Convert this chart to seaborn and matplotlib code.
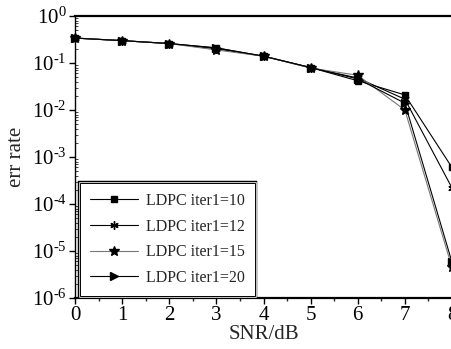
import matplotlib
matplotlib.use("Agg")
import matplotlib.pyplot as plt
import matplotlib.patheffects as pe
from matplotlib.ticker import LogLocator, MultipleLocator, NullFormatter, FuncFormatter
import seaborn as sns
import pandas as pd
import numpy as np

snr = [0, 1, 2, 3, 4, 5, 6, 7, 8]
iter10 = [0.34, 0.30, 0.26, 0.21, 0.14, 0.080, 0.042, 0.021, 6.0e-4]
iter12 = [0.34, 0.30, 0.26, 0.20, 0.14, 0.080, 0.048, 0.017, 2.2e-4]
iter15 = [0.34, 0.30, 0.26, 0.19, 0.14, 0.078, 0.055, 0.010, 4.5e-6]
iter20 = [0.34, 0.30, 0.26, 0.21, 0.14, 0.080, 0.046, 0.014, 5.8e-6]
labels = ["LDPC iter1=10", "LDPC iter1=12", "LDPC iter1=15", "LDPC iter1=20"]

df = pd.DataFrame({"snr": snr * 4,
                   "err": iter10 + iter12 + iter15 + iter20,
                   "series": [l for l in labels for _ in snr]})

sns.set_theme(style="ticks")
plt.rcParams["font.family"] = ["Liberation Serif", "DejaVu Serif"]
plt.rcParams["mathtext.fontset"] = "custom"
plt.rcParams["mathtext.rm"] = "Liberation Serif"
plt.rcParams["mathtext.it"] = "Liberation Serif"
plt.rcParams["mathtext.default"] = "regular"

fig = plt.figure(figsize=(4.52, 3.49), dpi=100)
ax = fig.add_axes([0.166, 0.146, 0.834, 0.808])

markers = {labels[0]: "s", labels[1]: (6, 2, 0), labels[2]: "*", labels[3]: ">"}
colors = {labels[0]: "black", labels[1]: "black", labels[2]: "#777777", labels[3]: "black"}
sizes = {labels[0]: 5, labels[1]: 6, labels[2]: 7, labels[3]: 6}

for lab in labels:
    sub = df[df["series"] == lab]
    sns.lineplot(data=sub, x="snr", y="err", ax=ax, color=colors[lab], lw=0.8,
                 marker=markers[lab], markersize=sizes[lab], markerfacecolor="black",
                 markeredgecolor="black", markeredgewidth=1.0, label=lab, clip_on=False)

ax.set_yscale("log")
ax.set_xlim(0, 8)
ax.set_ylim(1e-6, 1)
ax.xaxis.set_major_locator(MultipleLocator(1))
ax.xaxis.set_minor_locator(MultipleLocator(0.5))
ax.yaxis.set_major_locator(LogLocator(base=10, numticks=10))
ax.yaxis.set_major_formatter(FuncFormatter(
    lambda v, p: "$10^{%s}$" % ("\u2010%d" % -round(np.log10(v)) if v < 1 else "0")))
ax.yaxis.set_minor_locator(LogLocator(base=10, subs=range(2, 10), numticks=20))
ax.yaxis.set_minor_formatter(NullFormatter())
ax.tick_params(axis="both", which="major", direction="out", length=4, width=1,
               labelsize=15, colors="black", pad=2)
ax.tick_params(axis="y", which="minor", direction="in", length=2.5, width=0.6)
ax.tick_params(axis="x", which="minor", direction="out", length=2.5, width=1)

ax.spines["right"].set_visible(False)
ax.spines["top"].set_linewidth(1.6)
ax.spines["bottom"].set_linewidth(1.6)
ax.spines["left"].set_linewidth(1)
for s in ax.spines.values():
    s.set_color("black")

ax.set_xlabel("SNR/dB", fontsize=15, labelpad=0)
ax.set_ylabel("err rate", fontsize=15, labelpad=4)

leg = ax.legend(loc="lower left", bbox_to_anchor=(0.013, 0.007), borderaxespad=0,
                fontsize=11.5, handlelength=3.0, labelspacing=0.6, handletextpad=0.5,
                borderpad=0.65, fancybox=False, framealpha=1, edgecolor="black")
frame = leg.get_frame()
frame.set_linewidth(0.7)
frame.set_path_effects([pe.Stroke(linewidth=3.2, foreground="black"),
                        pe.Stroke(linewidth=1.8, foreground="white"),
                        pe.Normal()])

fig.savefig("out.png", dpi=100)
